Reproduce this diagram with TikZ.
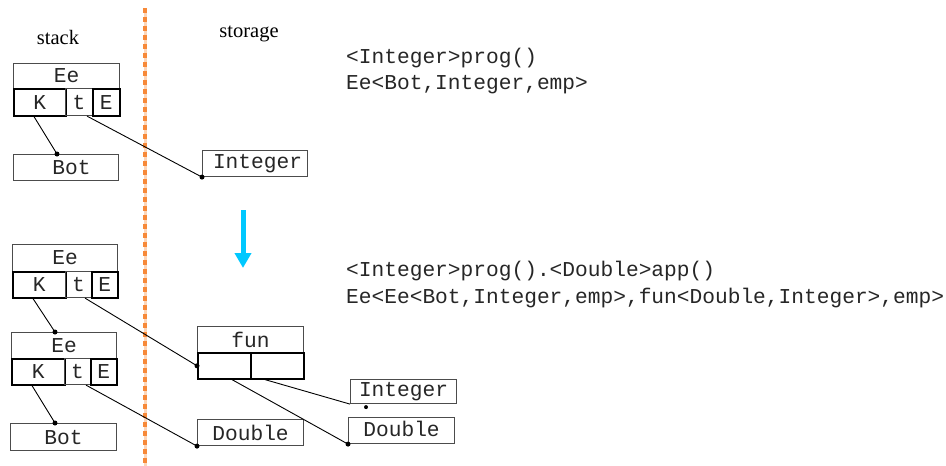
\documentclass[tikz,border=0pt]{standalone}
\usepackage{fontspec}
\setmainfont{Liberation Serif}
\setmonofont{Liberation Mono}
\usetikzlibrary{calc,arrows.meta}
\definecolor{dashorange}{RGB}{247,137,56}
\definecolor{arrowblue}{RGB}{0,200,255}
\tikzset{
  cell/.style={draw=black!70, line width=1.1pt, anchor=north west, inner sep=0pt,
    text=black!85, font=\fontsize{21.2}{21.2}\selectfont\ttfamily},
  kcell/.style={cell, draw=black, line width=1.6pt},
  code/.style={anchor=west, inner sep=0pt, text=black!85, font=\fontsize{21.2}{21.2}\selectfont\ttfamily},
  title/.style={inner sep=0pt, font=\fontsize{20.5}{20.5}\selectfont},
  link/.style={black, line width=0.9pt},
  dot/.style={circle, fill=black, inner sep=0pt, minimum size=5pt},
}
\begin{document}
\begin{tikzpicture}[x=1pt,y=-1pt]
\useasboundingbox (0,0) rectangle (946,466);
% separator
\draw[dashorange!35, line width=3pt] (145,8) -- (145,466);
\draw[dashorange, line width=4.5pt, dash pattern=on 5pt off 4pt] (145,8) -- (145,466);
\node[title] (stk) at (58,37) {stack};
\node[title] (sto) at (249,34) {storage};

% ---- top state
\node[cell, minimum width=106, minimum height=25] (ee1) at (13,63) {Ee};
\node[kcell, minimum width=52, minimum height=27] (k1) at (13,88) {K};
\node[cell, minimum width=27, minimum height=27] (t1) at (65,88) {t};
\node[kcell, minimum width=27, minimum height=27] (e1) at (92,88) {E};
\node[cell, minimum width=105, minimum height=26] (bot1) at (13,154) {\hspace*{11pt}Bot};
\node[cell, minimum width=105, minimum height=26] (int1) at (202,150) {\hspace*{5pt}Integer};

\coordinate (k1p) at ($(k1.south west)+(21,0)$);
\coordinate (t1p) at ($(t1.south west)+(22,0)$);
\coordinate (bot1p) at ($(bot1.north west)+(44,0)$);
\draw[link] (k1p) -- (bot1p);
\node[dot] (d1) at (bot1p) {};
\draw[link] (t1p) -- (int1.south west);
\node[dot] (d2) at (int1.south west) {};

\node[code] (c1) at (346,58) {<Integer>prog()};
\node[code] (c2) at (346,85) {Ee<Bot,Integer,emp>};

% arrow
\coordinate (arA) at (243,210);
\coordinate (arB) at (243,268);
\draw[arrowblue, line width=5pt, -{Triangle[width=16pt,length=15pt]}] (arA) -- (arB);

\node[code] (c3) at (346,271) {<Integer>prog().<Double>app()};
\node[code] (c4) at (346,298) {Ee<Ee<Bot,Integer,emp>,fun<Double,Integer>,emp>};

% ---- bottom state
\node[cell, minimum width=105, minimum height=27] (ee2) at (12,244) {Ee};
\node[kcell, minimum width=53, minimum height=26] (k2) at (12,271) {K};
\node[cell, minimum width=26, minimum height=26] (t2) at (65,271) {t};
\node[kcell, minimum width=26, minimum height=26] (e2) at (91,271) {E};

\node[cell, minimum width=105, minimum height=26] (ee3) at (11,332) {Ee};
\node[kcell, minimum width=53, minimum height=26] (k3) at (11,358) {K};
\node[cell, minimum width=26, minimum height=26] (t3) at (64,358) {t};
\node[kcell, minimum width=26, minimum height=26] (e3) at (90,358) {E};

\node[cell, minimum width=106, minimum height=27] (bot2) at (10,423) {Bot};

\node[cell, minimum width=106, minimum height=26] (fun) at (197,326) {fun};
\node[kcell, minimum width=53, minimum height=26] (fa) at (197,352) {};
\node[kcell, minimum width=53, minimum height=26] (fb) at (250,352) {};

\node[cell, minimum width=106, minimum height=26] (dbl1) at (197,419) {Double};
\node[cell, minimum width=106, minimum height=24] (int2) at (350,379) {Integer};
\node[cell, minimum width=106, minimum height=26] (dbl2) at (348,417) {\raisebox{4pt}{Double}};

\coordinate (k2p) at ($(k2.south west)+(21,0)$);
\coordinate (t2p) at ($(t2.south west)+(20,0)$);
\coordinate (k3p) at ($(k3.south west)+(21,0)$);
\coordinate (t3p) at ($(t3.south west)+(22,0)$);
\coordinate (ee3p) at ($(ee3.north west)+(44,0)$);
\coordinate (bot2p) at ($(bot2.north west)+(45,0)$);
\coordinate (fap) at ($(fa.south west)+(35,0)$);
\coordinate (fbp) at ($(fb.south west)+(15,0)$);
\coordinate (int2p) at ($(int2.south west)+(16,3)$);

\draw[link] (k2p) -- (ee3p);
\node[dot] (d3) at (ee3p) {};
\draw[link] (k3p) -- (bot2p);
\node[dot] (d4) at (bot2p) {};
\draw[link] (t2p) -- (fa.west);
\node[dot] (d5) at (fa.west) {};
\draw[link] (t3p) -- (dbl1.south west);
\node[dot] (d6) at (dbl1.south west) {};
\draw[link] (fap) -- (dbl2.south west);
\node[dot] (d7) at (dbl2.south west) {};
\draw[link] (fbp) -- (int2.south west);
\node[dot, minimum size=4pt] (d8) at (int2p) {};
\end{tikzpicture}
\end{document}
